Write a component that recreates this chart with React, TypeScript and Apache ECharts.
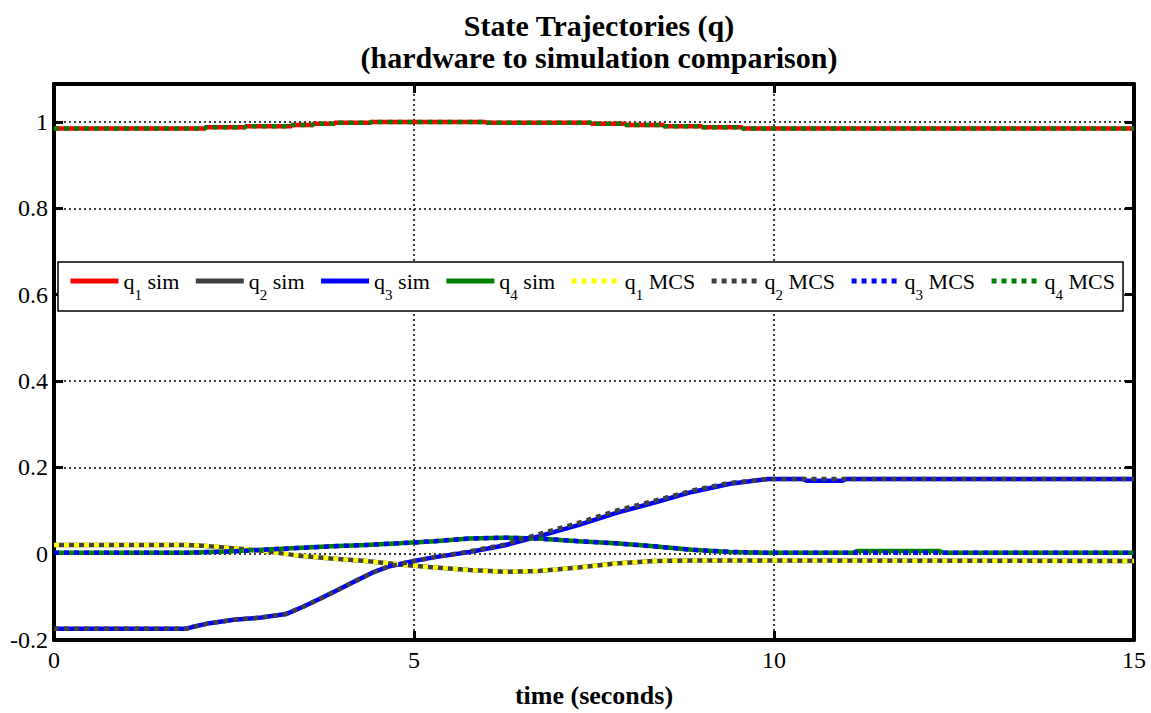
import React, { useEffect, useRef } from "react";
import * as echarts from "echarts";

// ---- data ----
const X_TICKS = [0, 5, 10, 15];
const Y_MIN = -0.2;
const Y_MAX = 1.088;

// curve near 1 (stair-like)
const tTop = [0, 2.1, 2.66, 3.3, 3.6, 3.9, 4.4, 6.0, 7.46, 7.94, 8.47, 9.0, 9.56, 15];
const q1Sim = [0.985, 0.988, 0.99, 0.993, 0.996, 0.998, 1.0, 0.998, 0.996, 0.993, 0.99, 0.988, 0.985, 0.985];
const q4Mcs = [0.985, 0.988, 0.99, 0.993, 0.996, 0.998, 1.0, 0.998, 0.996, 0.993, 0.99, 0.988, 0.985, 0.985];

// curve from -0.174 to 0.173
const tRise = [0, 1.83, 1.92, 2.16, 2.5, 2.88, 3.22, 3.46, 3.7, 3.94, 4.18, 4.42, 4.66, 5.0, 5.29, 5.77, 6.25, 6.73, 7.28, 7.8, 8.33, 8.86, 9.39, 9.92, 10.4, 10.45, 10.95, 11.0, 15];
const q3Sim = [-0.174, -0.174, -0.17, -0.161, -0.153, -0.148, -0.14, -0.123, -0.104, -0.084, -0.064, -0.044, -0.029, -0.017, -0.008, 0.004, 0.019, 0.04, 0.066, 0.094, 0.118, 0.143, 0.162, 0.173, 0.173, 0.169, 0.169, 0.173, 0.173];
const q2Mcs = [-0.174, -0.174, -0.17, -0.161, -0.153, -0.148, -0.14, -0.123, -0.104, -0.084, -0.064, -0.044, -0.029, -0.017, -0.008, 0.005, 0.021, 0.045, 0.071, 0.099, 0.122, 0.146, 0.164, 0.173, 0.173, 0.173, 0.173, 0.173, 0.173];

// curve from 0.02 dipping to -0.042
const tDip = [0, 1.83, 2.02, 2.4, 2.88, 3.37, 3.85, 4.33, 4.8, 5.29, 5.77, 6.25, 6.73, 7.28, 7.8, 8.33, 8.86, 9.92, 15];
const q2Sim = [0.02, 0.02, 0.019, 0.014, 0.007, -0.004, -0.011, -0.017, -0.025, -0.032, -0.038, -0.042, -0.04, -0.032, -0.023, -0.017, -0.016, -0.016, -0.017];
const q1Mcs = [0.02, 0.02, 0.019, 0.014, 0.007, -0.004, -0.011, -0.017, -0.025, -0.032, -0.038, -0.042, -0.04, -0.032, -0.023, -0.017, -0.016, -0.016, -0.017];

// curve near 0 with a small bump
const tBump = [0, 1.83, 2.4, 2.88, 3.37, 3.85, 4.33, 4.8, 5.29, 5.77, 6.25, 6.73, 7.28, 7.8, 8.33, 8.86, 9.39, 9.92, 11.1, 11.15, 12.3, 12.35, 15];
const q4Sim = [0.002, 0.002, 0.005, 0.009, 0.013, 0.017, 0.02, 0.024, 0.029, 0.035, 0.037, 0.035, 0.029, 0.024, 0.017, 0.009, 0.004, 0.002, 0.002, 0.006, 0.006, 0.002, 0.002];
const q3Mcs = [0.002, 0.002, 0.005, 0.009, 0.013, 0.017, 0.02, 0.024, 0.029, 0.035, 0.037, 0.035, 0.029, 0.024, 0.017, 0.009, 0.004, 0.002, 0.002, 0.002, 0.002, 0.002, 0.002];

const SERIES_NAMES = ["q1 sim", "q2 sim", "q3 sim", "q4 sim", "q1 MCS", "q2 MCS", "q3 MCS", "q4 MCS"];
const SERIES_COLORS = ["#ff0000", "#404040", "#0000ff", "#008000", "#ffff00", "#404040", "#0000ff", "#008000"];

const zip = (t: number[], v: number[]) => t.map((x, i) => [x, v[i]]);

const SERIF = "'Liberation Serif', 'Times New Roman', serif";

export default function App() {
  const ref = useRef<HTMLDivElement>(null);
  useEffect(() => {
    if (!ref.current) return;
    const chart = echarts.init(ref.current, undefined, { renderer: "svg" });
    const dataSets = [
      zip(tTop, q1Sim),
      zip(tDip, q2Sim),
      zip(tRise, q3Sim),
      zip(tBump, q4Sim),
      zip(tDip, q1Mcs),
      zip(tRise, q2Mcs),
      zip(tBump, q3Mcs),
      zip(tTop, q4Mcs),
    ];
    const series = SERIES_NAMES.map((name, i) => {
      const dotted = i >= 4;
      return {
        name,
        type: "line",
        xAxisIndex: 0,
        yAxisIndex: 0,
        data: dataSets[i],
        showSymbol: false,
        symbol: "circle",
        itemStyle: { color: SERIES_COLORS[i], opacity: 0 },
        step: i === 0 || i === 7 ? "end" : false,
        lineStyle: {
          color: SERIES_COLORS[i],
          width: 4.5,
          type: dotted ? [5, 5] : "solid",
          cap: "butt",
        },
        z: dotted ? 3 : 2,
        silent: true,
      };
    });

    const axisLineStyle = { onZero: false, lineStyle: { color: "#000", width: 4 } };
    const tickStyle = { show: true, inside: true, length: 9, lineStyle: { color: "#000", width: 3 } };
    const yFmt = (v: number) => {
      const k = Math.round(v / 0.2);
      if (Math.abs(v - k * 0.2) > 1e-6) return "";
      const r = Math.round(v * 10) / 10;
      return String(r);
    };

    chart.setOption({
      animation: false,
      backgroundColor: "#fff",
      title: {
        text: "State Trajectories (q)\n(hardware to simulation comparison)",
        left: 594,
        top: 4,
        textAlign: "center",
        textStyle: { fontFamily: SERIF, fontSize: 30, fontWeight: "bold", lineHeight: 32, color: "#000" },
      },
      legend: {
        left: 58,
        top: 262,
        orient: "horizontal",
        backgroundColor: "#fff",
        borderColor: "#000",
        borderWidth: 1.5,
        borderRadius: 0,
        padding: [8, 8, 9, 10],
        itemGap: 14,
        itemWidth: 48,
        itemHeight: 14,
        itemStyle: { opacity: 0 },
        lineStyle: { width: 5 },
        data: SERIES_NAMES,
        formatter: (name: string) => {
          const m = name.match(/^q(\d) (.*)$/);
          return m ? `{m|q}{s|${m[1]}}{m| ${m[2]}}` : name;
        },
        textStyle: {
          fontFamily: SERIF,
          fontSize: 22,
          color: "#000",
          rich: {
            m: { fontFamily: SERIF, fontSize: 22, color: "#000", lineHeight: 26, verticalAlign: "middle" },
            s: { fontFamily: SERIF, fontSize: 15, color: "#000", lineHeight: 26, verticalAlign: "bottom", padding: [0, 0, -8, 0] },
          },
        },
        z: 10,
      },
      grid: { left: 54, right: 17, top: 84, bottom: 65, containLabel: false },
      xAxis: [
        {
          type: "value",
          position: "bottom",
          min: 0,
          max: 15,
          interval: 5,
          name: "time (seconds)",
          nameLocation: "middle",
          nameGap: 42,
          nameTextStyle: { fontFamily: SERIF, fontSize: 26, fontWeight: "bold", color: "#000" },
          axisLine: { show: true, ...axisLineStyle },
          axisTick: tickStyle,
          axisLabel: { fontFamily: SERIF, fontSize: 24, color: "#000", margin: 8 },
          splitLine: { show: true, lineStyle: { color: "#000", width: 1.5, type: [2, 3] } },
        },
        {
          type: "value",
          position: "top",
          min: 0,
          max: 15,
          interval: 5,
          axisLine: { show: true, ...axisLineStyle },
          axisTick: tickStyle,
          axisLabel: { show: false },
          splitLine: { show: false },
        },
      ],
      yAxis: [
        {
          type: "value",
          position: "left",
          min: Y_MIN,
          max: Y_MAX,
          interval: 0.2,
          axisLine: { show: true, ...axisLineStyle },
          axisTick: tickStyle,
          axisLabel: { fontFamily: SERIF, fontSize: 24, color: "#000", margin: 6, formatter: yFmt, showMaxLabel: false },
          splitLine: { show: true, lineStyle: { color: "#000", width: 1.5, type: [2, 3] } },
        },
        {
          type: "value",
          position: "right",
          min: Y_MIN,
          max: Y_MAX,
          interval: 0.2,
          axisLine: { show: true, ...axisLineStyle },
          axisTick: tickStyle,
          axisLabel: { show: false },
          splitLine: { show: false },
        },
      ],
      series,
    });
    return () => chart.dispose();
  }, []);
  return (
    <div
      ref={ref}
      style={{ position: "fixed", left: 0, top: 0, width: 1151, height: 713, background: "#fff" }}
    />
  );
}
